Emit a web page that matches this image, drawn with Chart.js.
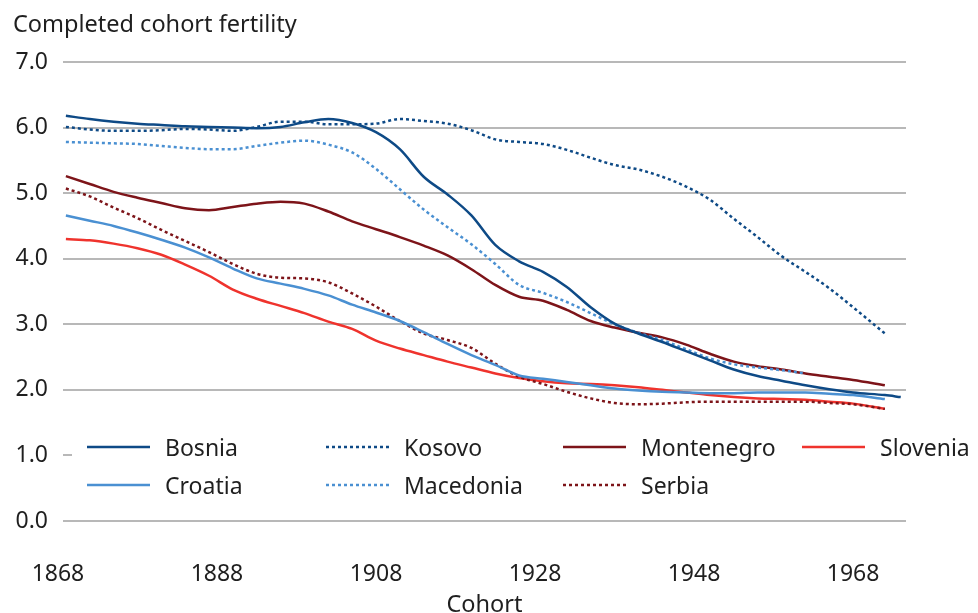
<!DOCTYPE html>
<html>
<head>
<meta charset="utf-8">
<script src="https://cdn.jsdelivr.net/npm/chart.js@4.4.1/dist/chart.umd.min.js"></script>
<style>
  html, body { margin: 0; padding: 0; background: #fff; }
  #wrap { width: 978px; height: 613px; }
</style>
</head>
<body>
<div id="wrap"><canvas id="fertChart" width="978" height="613"></canvas></div>
<script>
// Cohort years (every 3rd cohort)
const cohorts = [1869, 1872, 1875, 1878, 1881, 1884, 1887, 1890, 1893, 1896, 1899, 1902,
  1905, 1908, 1911, 1914, 1917, 1920, 1923, 1926, 1929, 1932, 1935, 1938, 1941, 1944,
  1947, 1950, 1953, 1956, 1959, 1962, 1965, 1968, 1972, 1974];

const bosnia = [6.18, 6.13, 6.09, 6.06, 6.04, 6.02, 6.01, 6.00, 5.99, 6.01, 6.08, 6.13,
  6.07, 5.93, 5.67, 5.25, 4.98, 4.66, 4.21, 3.96, 3.80, 3.57, 3.26, 3.01, 2.86, 2.73,
  2.59, 2.45, 2.31, 2.21, 2.14, 2.07, 2.01, 1.96, 1.92, 1.89];
const croatia = [4.66, 4.58, 4.50, 4.40, 4.29, 4.17, 4.02, 3.85, 3.70, 3.62, 3.54, 3.44,
  3.30, 3.18, 3.05, 2.88, 2.70, 2.53, 2.38, 2.22, 2.17, 2.12, 2.07, 2.02, 1.99, 1.97,
  1.96, 1.95, 1.95, 1.96, 1.96, 1.96, 1.94, 1.92, 1.86, null];
const kosovo = [6.01, 5.97, 5.95, 5.95, 5.96, 5.98, 5.97, 5.95, 6.01, 6.09, 6.09, 6.05,
  6.05, 6.06, 6.13, 6.10, 6.06, 5.96, 5.82, 5.78, 5.75, 5.66, 5.54, 5.43, 5.36, 5.25,
  5.10, 4.90, 4.61, 4.33, 4.04, 3.80, 3.55, 3.26, 2.86, null];
const macedonia = [5.78, 5.77, 5.76, 5.75, 5.72, 5.69, 5.67, 5.67, 5.72, 5.77, 5.80, 5.74,
  5.62, 5.37, 5.06, 4.75, 4.48, 4.22, 3.92, 3.60, 3.48, 3.34, 3.17, 3.00, 2.87, 2.76,
  2.62, 2.48, 2.39, 2.34, 2.30, 2.25, null, null, null, null];
const montenegro = [5.26, 5.14, 5.02, 4.93, 4.85, 4.77, 4.74, 4.79, 4.84, 4.87, 4.84, 4.72,
  4.57, 4.45, 4.33, 4.20, 4.05, 3.84, 3.60, 3.42, 3.36, 3.22, 3.05, 2.95, 2.87, 2.80,
  2.69, 2.55, 2.43, 2.36, 2.31, 2.25, 2.20, 2.15, 2.07, null];
const serbia = [5.07, 4.95, 4.78, 4.62, 4.44, 4.27, 4.10, 3.92, 3.77, 3.71, 3.70, 3.64,
  3.47, 3.27, 3.05, 2.86, 2.76, 2.64, 2.40, 2.20, 2.09, 1.97, 1.87, 1.80, 1.78, 1.79,
  1.81, 1.82, 1.82, 1.82, 1.82, 1.82, 1.80, 1.78, 1.71, null];
const slovenia = [4.30, 4.28, 4.23, 4.16, 4.06, 3.91, 3.74, 3.53, 3.39, 3.28, 3.17, 3.04,
  2.93, 2.75, 2.63, 2.53, 2.43, 2.34, 2.25, 2.18, 2.13, 2.10, 2.09, 2.07, 2.04, 2.00,
  1.96, 1.92, 1.89, 1.87, 1.86, 1.85, 1.82, 1.79, 1.71, null];

const xTicks = [1868, 1888, 1908, 1928, 1948, 1968];

const FONT = "'Noto Sans', 'Liberation Sans', sans-serif";
const TEXT = '#1f1f1f';

function points(vals) {
    return cohorts.map((c, i) => ({ x: c, y: vals[i] })).filter(p => p.y !== null);
}

function series(label, vals, color, dotted) {
    return {
        label: label,
        data: points(vals),
        borderColor: color,
        backgroundColor: color,
        borderWidth: 2.5,
        borderDash: dotted ? [3, 3] : [],
        pointRadius: 0,
        fill: false,
        cubicInterpolationMode: 'monotone'
    };
}

// draws the heading, the x axis title and the boxed legend inside the plot
const decorations = {
    id: 'decorations',
    beforeDatasetsDraw(chart) {
        const ctx = chart.ctx;
        const area = chart.chartArea;
        ctx.save();
        ctx.fillStyle = '#fff';
        ctx.fillRect(72, 424, area.right - 72 + 10, 82);
        const cols = [87, 326, 563, 802];
        const rows = [447, 485];
        ctx.font = '23px ' + FONT;
        ctx.textBaseline = 'alphabetic';
        chart.data.datasets.forEach((ds, i) => {
            const x = cols[Math.floor(i / 2)];
            const y = rows[i % 2];
            ctx.strokeStyle = ds.borderColor;
            ctx.lineWidth = 2.5;
            ctx.setLineDash(ds.borderDash);
            ctx.beginPath();
            ctx.moveTo(x, y);
            ctx.lineTo(x + 63, y);
            ctx.stroke();
            ctx.setLineDash([]);
            ctx.fillStyle = TEXT;
            ctx.fillText(ds.label, x + 78, y + 9);
        });
        ctx.restore();
    },
    afterDraw(chart) {
        const ctx = chart.ctx;
        const area = chart.chartArea;
        ctx.save();
        ctx.fillStyle = TEXT;
        ctx.font = '23.5px ' + FONT;
        ctx.textBaseline = 'alphabetic';
        ctx.textAlign = 'left';
        ctx.fillText('Completed cohort fertility', 13, 32);
        ctx.textAlign = 'center';
        ctx.fillText('Cohort', (area.left + area.right) / 2, 612);
        ctx.restore();
    }
};

new Chart(document.getElementById('fertChart'), {
    type: 'line',
    data: {
        datasets: [
            series('Bosnia', bosnia, '#0e4a86', false),
            series('Croatia', croatia, '#4a90d2', false),
            series('Kosovo', kosovo, '#0e4a86', true),
            series('Macedonia', macedonia, '#4a90d2', true),
            series('Montenegro', montenegro, '#7d1419', false),
            series('Serbia', serbia, '#7d1419', true),
            series('Slovenia', slovenia, '#ef332d', false)
        ]
    },
    options: {
        responsive: false,
        devicePixelRatio: 1,
        animation: false,
        layout: { padding: { left: 0, right: 72, top: 62, bottom: 0 } },
        plugins: {
            legend: { display: false },
            tooltip: { enabled: false }
        },
        scales: {
            x: {
                type: 'linear',
                min: 1868.63,
                max: 1974.66,
                afterBuildTicks: s => { s.ticks = xTicks.map(v => ({ value: v })); },
                afterFit: s => { s.height = 92; },
                grid: { display: false },
                border: { display: false },
                ticks: {
                    autoSkip: false,
                    maxRotation: 0,
                    padding: 32,
                    color: TEXT,
                    font: { family: FONT, size: 23 },
                    callback: v => String(v)
                }
            },
            y: {
                min: 0,
                max: 7,
                afterFit: s => { s.width = 62; },
                grid: { color: '#b8b8b8', lineWidth: 2, drawTicks: false },
                border: { display: false },
                ticks: {
                    stepSize: 1,
                    padding: 15,
                    color: TEXT,
                    font: { family: FONT, size: 23 },
                    callback: v => v.toFixed(1)
                }
            }
        }
    },
    plugins: [decorations]
});
</script>
</body>
</html>
